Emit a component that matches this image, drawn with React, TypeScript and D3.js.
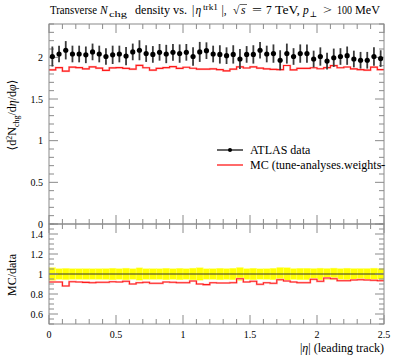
import React from "react";
import * as d3 from "d3";

// |eta| bins of the leading track, 50 bins of 0.05
const binLow = d3.range(50).map(i => i * 0.05);
const binWidth = 0.05;

// ATLAS data: <d2N/deta dphi> and error
const dataVals = [
  2.01, 2.04, 2.085, 2.04, 2.04, 2.03, 2.065, 2.04, 2.01, 2.03,
  2.04, 2.015, 2.065, 2.085, 2.045, 2.035, 2.06, 2.04, 2.06, 2.045,
  2.06, 2.01, 2.065, 2.08, 2.04, 2.035, 2.02, 2.035, 1.98, 2.035,
  2.035, 2.085, 2.04, 2.045, 1.965, 2.045, 2.01, 2.045, 2.045, 1.98,
  2.01, 1.955, 1.995, 2.01, 2.02, 1.98, 1.965, 1.965, 2.01, 1.985,
];
const dataErr = [
  0.12, 0.1, 0.11, 0.1, 0.1, 0.1, 0.1, 0.1, 0.1, 0.11,
  0.1, 0.11, 0.1, 0.12, 0.1, 0.1, 0.1, 0.11, 0.1, 0.11,
  0.1, 0.11, 0.12, 0.1, 0.1, 0.11, 0.1, 0.11, 0.12, 0.1,
  0.11, 0.1, 0.1, 0.11, 0.12, 0.12, 0.1, 0.11, 0.11, 0.1,
  0.11, 0.1, 0.11, 0.1, 0.11, 0.1, 0.1, 0.1, 0.11, 0.1,
];
// MC prediction
const mcVals = [
  1.85, 1.877, 1.835, 1.883, 1.877, 1.861, 1.885, 1.871, 1.843, 1.873,
  1.877, 1.868, 1.859, 1.903, 1.875, 1.846, 1.868, 1.877, 1.889, 1.867,
  1.881, 1.869, 1.859, 1.858, 1.862, 1.852, 1.838, 1.858, 1.886, 1.872,
  1.886, 1.87, 1.862, 1.855, 1.853, 1.902, 1.849, 1.867, 1.867, 1.875,
  1.863, 1.876, 1.901, 1.875, 1.884, 1.861, 1.853, 1.847, 1.883, 1.852,
];

const xTicks = [0, 0.5, 1, 1.5, 2, 2.5];
const yMainTicks = [0, 0.5, 1, 1.5, 2];
const yRatioTicks = [0.6, 0.8, 1, 1.2, 1.4];

const W = 397, H = 358;
const L = 49, R = 384;
const serif = "'Liberation Serif', 'DejaVu Serif', serif";
const frameCol = "#8a8a8a";
const red = "#ff1a1a";

export default function App() {
  const x = d3.scaleLinear().domain([0, 2.5]).range([L, R]);
  const yMain = d3.scaleLinear().domain([0, 2.4]).range([224, 24]);
  const yRat = d3.scaleLinear().domain([0.5, 1.5]).range([324, 224]);

  const stepPts = (vals: number[]): [number, number][] => {
    const p: [number, number][] = binLow.map((b, i) => [b, vals[i]]);
    p.push([2.5, vals[vals.length - 1]]);
    return p;
  };
  const mcLine = d3.line<[number, number]>()
    .x(d => x(d[0])).y(d => yMain(d[1])).curve(d3.curveStepAfter);
  const ratLine = d3.line<[number, number]>()
    .x(d => x(d[0])).y(d => yRat(d[1])).curve(d3.curveStepAfter);
  const ratios = mcVals.map((m, i) => m / dataVals[i]);

  const xMinor = d3.range(0, 2.5001, 0.1);
  const yMinor = d3.range(0, 2.4001, 0.1);
  const rMinor = d3.range(0.5, 1.5001, 0.05);
  const isMaj = (v: number, step: number) => Math.abs(v / step - Math.round(v / step)) < 1e-6;

  const xTickMarks = (top: number, bottom: number) =>
    xMinor.map((v, i) => {
      const len = isMaj(v, 0.5) ? 9 : 5;
      return (
        <g key={i}>
          <line x1={x(v)} x2={x(v)} y1={top} y2={top + len} stroke={frameCol} />
          <line x1={x(v)} x2={x(v)} y1={bottom} y2={bottom - len} stroke={frameCol} />
        </g>
      );
    });

  const fit = { lengthAdjust: "spacingAndGlyphs" as const };

  return (
    <svg width={W} height={H} style={{ position: "absolute", left: 0, top: 0 }}
      fontFamily={serif}>
      <rect width={W} height={H} fill="white" />

      {/* title, placed piece by piece */}
      <g fontSize={11.5}>
        <text x={50} y={14} textLength={47} {...fit}>Transverse</text>
        <text x={100} y={14} fontStyle="italic">N</text>
        <text x={109} y={16.5} fontSize={9} textLength={18} {...fit}>chg</text>
        <text x={135} y={14} textLength={35} {...fit}>density</text>
        <text x={173} y={14} textLength={14} {...fit}>vs.</text>
        <text x={192} y={14}>|</text>
        <text x={195.5} y={14} fontStyle="italic">η</text>
        <text x={203} y={9.5} fontSize={8} textLength={15} {...fit}>trk1</text>
        <text x={221.5} y={14}>|,</text>
        <text x={233} y={14}>√</text>
        <line x1={239.5} x2={247} y1={4.5} y2={4.5} stroke="black" strokeWidth={0.6} />
        <text x={241} y={14} fontStyle="italic">s</text>
        <text x={252} y={14} textLength={10} {...fit}>=</text>
        <text x={266} y={14}>7</text>
        <text x={275} y={14} textLength={25} {...fit}>TeV,</text>
        <text x={303} y={14} fontStyle="italic">p</text>
        <text x={309.5} y={16.5} fontSize={8}>⊥</text>
        <text x={323} y={14} textLength={9} {...fit}>&gt;</text>
        <text x={337} y={14} textLength={15} {...fit}>100</text>
        <text x={355} y={14} textLength={25} {...fit}>MeV</text>
      </g>

      {/* main panel */}
      <g>
        {xTickMarks(24, 224)}
        {yMinor.map((v, i) => {
          const len = isMaj(v, 0.5) ? 9 : 5;
          return (
            <g key={i}>
              <line x1={L} x2={L + len} y1={yMain(v)} y2={yMain(v)} stroke={frameCol} />
              <line x1={R} x2={R - len} y1={yMain(v)} y2={yMain(v)} stroke={frameCol} />
            </g>
          );
        })}
        {yMainTicks.map(v => (
          <text key={v} x={43} y={yMain(v) + 3.5} fontSize={10} textAnchor="end">{v}</text>
        ))}
        <path d={mcLine(stepPts(mcVals)) || ""} fill="none" stroke="#ffc4c4" strokeWidth={2.2} />
        <path d={mcLine(stepPts(mcVals)) || ""} fill="none" stroke={red} strokeWidth={1.1} />
        {dataVals.map((v, i) => {
          const cx = x(binLow[i] + binWidth / 2);
          return (
            <g key={i}>
              <line x1={cx} x2={cx} y1={yMain(v - dataErr[i])} y2={yMain(v + dataErr[i])}
                stroke="#3a3a3a" strokeWidth={1.8} />
              <circle cx={cx} cy={yMain(v)} r={2.6} fill="black" />
            </g>
          );
        })}
        <rect x={L} y={24} width={R - L} height={200} fill="none" stroke={frameCol} />
      </g>

      {/* legend */}
      <line x1={217} x2={243} y1={150} y2={150} stroke="black" strokeWidth={1.2} />
      <circle cx={230} cy={150} r={2} fill="black" />
      <text x={250} y={154} fontSize={12}>ATLAS data</text>
      <line x1={217} x2={243} y1={165} y2={165} stroke={red} strokeWidth={1.3} />
      <text x={250} y={169} fontSize={12}>MC (tune-analyses.weights-</text>

      {/* y label main */}
      <text transform={`translate(16,${115}) rotate(-90)`} fontSize={12} textAnchor="middle">
        ⟨d<tspan fontSize={8} dy={-4}>2</tspan>
        <tspan dy={4}>N</tspan>
        <tspan fontSize={8} dy={2.5}>chg</tspan>
        <tspan dy={-2.5}>/d</tspan>
        <tspan fontStyle="italic">η</tspan>/d
        <tspan fontStyle="italic">φ</tspan>⟩
      </text>

      {/* ratio panel */}
      <g>
        {binLow.map((b, i) => {
          const e = dataErr[i] / dataVals[i] + 0.004;
          return (
            <rect key={i} x={x(b)} width={x(b + binWidth) - x(b)}
              y={yRat(1 + e)} height={yRat(1 - e) - yRat(1 + e)} fill="#ffff00"
              stroke="#ffff70" strokeWidth={0.4} />
          );
        })}
        <line x1={L} x2={R} y1={yRat(1)} y2={yRat(1)} stroke="#333" strokeWidth={1} />
        <path d={ratLine(stepPts(ratios)) || ""} fill="none" stroke="#ffc4c4" strokeWidth={2.2} />
        <path d={ratLine(stepPts(ratios)) || ""} fill="none" stroke={red} strokeWidth={1.1} />
        {xTickMarks(224, 324)}
        {rMinor.map((v, i) => {
          const len = isMaj(v, 0.2) ? 9 : 5;
          return (
            <g key={i}>
              <line x1={L} x2={L + len} y1={yRat(v)} y2={yRat(v)} stroke={frameCol} />
              <line x1={R} x2={R - len} y1={yRat(v)} y2={yRat(v)} stroke={frameCol} />
            </g>
          );
        })}
        {yRatioTicks.map(v => (
          <text key={v} x={43} y={yRat(v) + 3.5} fontSize={10} textAnchor="end">{v}</text>
        ))}
        <rect x={L} y={224} width={R - L} height={100} fill="none" stroke={frameCol} />
        {xTicks.map(v => (
          <text key={v} x={x(v)} y={338} fontSize={10} textAnchor="middle">{v}</text>
        ))}
      </g>

      <text transform="translate(16,275) rotate(-90)" fontSize={12} textAnchor="middle">MC/data</text>

      <text x={R} y={352} fontSize={12} textAnchor="end">
        |<tspan fontStyle="italic">η</tspan>| (leading track)
      </text>
    </svg>
  );
}
